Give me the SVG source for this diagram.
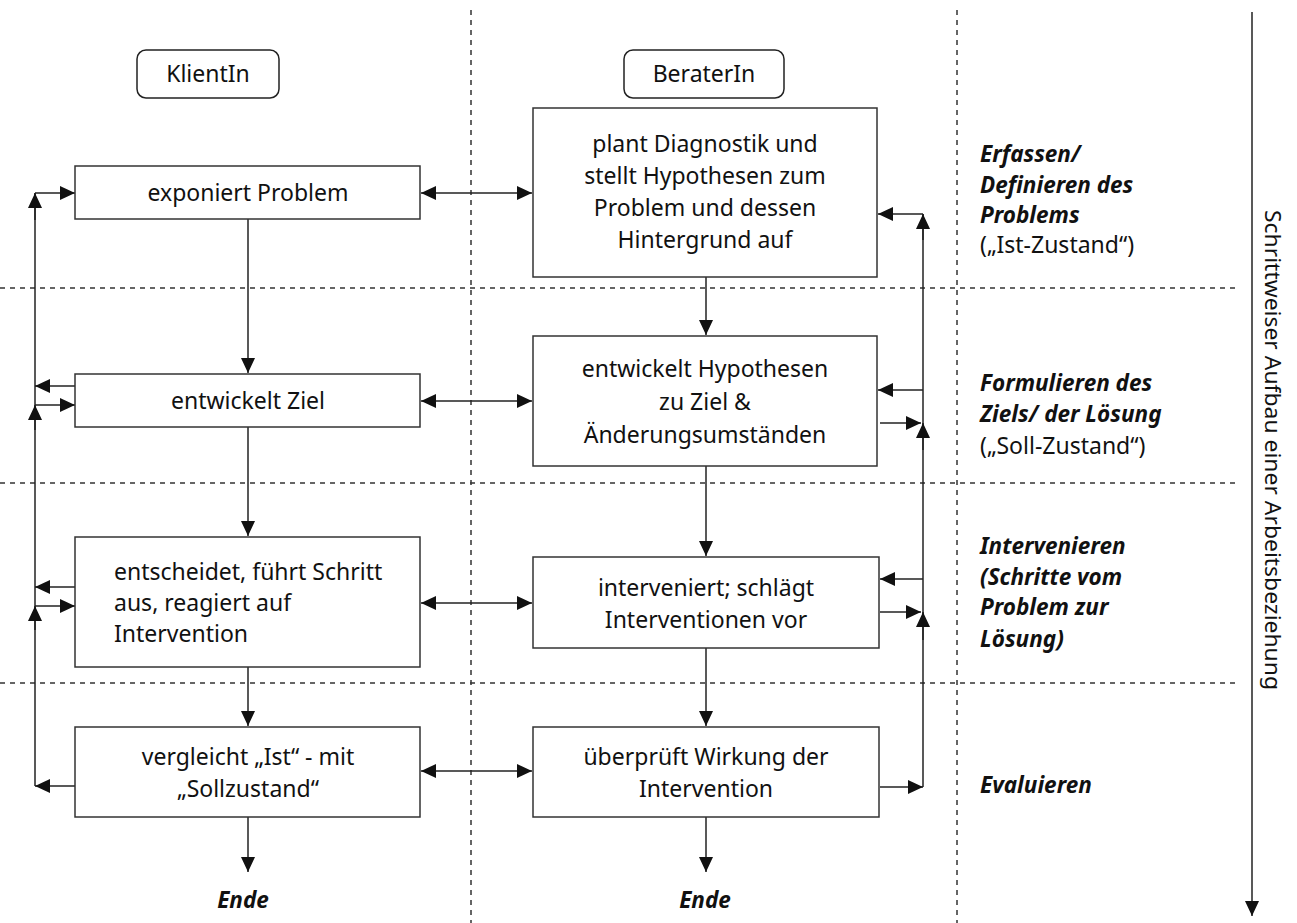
<svg xmlns="http://www.w3.org/2000/svg" width="1297" height="923" viewBox="0 0 1297 923">
<defs>
<marker id="ah" viewBox="0 0 15 14" refX="15" refY="7" markerWidth="15" markerHeight="14" markerUnits="userSpaceOnUse" orient="auto-start-reverse">
<path d="M0,0 L15,7 L0,14 Z" fill="#111"/>
</marker>
<style>
.box{fill:#fff;stroke:#333;stroke-width:1.5}
.hdr{fill:#fff;stroke:#222;stroke-width:1.5}
.dash{stroke:#333;stroke-width:1.5;stroke-dasharray:5,5;fill:none}
.ln{stroke:#222;stroke-width:1.5;fill:none}
.ar{stroke:#222;stroke-width:1.5;fill:none;marker-end:url(#ah)}
.dar{stroke:#222;stroke-width:1.5;fill:none;marker-end:url(#ah);marker-start:url(#ah)}
.t{font-family:"Noto Sans","Open Sans",sans-serif;font-size:23px;fill:#111;text-anchor:middle}
.tl{font-family:"Noto Sans","Open Sans",sans-serif;font-size:23px;fill:#111}
.bi{font-family:"Noto Sans","Open Sans",sans-serif;font-size:22.5px;fill:#111;font-weight:bold;font-style:italic}
</style>
</defs>
<rect width="1297" height="923" fill="#fff"/>
<g id="grid">
<line class="dash" x1="471" y1="10" x2="471" y2="923"/>
<line class="dash" x1="957" y1="10" x2="957" y2="923"/>
<line class="dash" x1="0" y1="288" x2="1240" y2="288"/>
<line class="dash" x1="0" y1="483" x2="1240" y2="483"/>
<line class="dash" x1="0" y1="683" x2="1240" y2="683"/>
</g>
<g id="connectors">
<line class="ln" x1="35" y1="786" x2="35" y2="193"/>
<line class="ar" x1="35" y1="220" x2="35" y2="193"/>
<line class="ar" x1="35" y1="430" x2="35" y2="405"/>
<line class="ar" x1="35" y1="630" x2="35" y2="606"/>
<line class="ar" x1="35" y1="193" x2="75" y2="193"/>
<line class="ar" x1="75" y1="386" x2="35" y2="386"/>
<line class="ar" x1="35" y1="405" x2="75" y2="405"/>
<line class="ar" x1="75" y1="587" x2="35" y2="587"/>
<line class="ar" x1="35" y1="606" x2="75" y2="606"/>
<line class="ar" x1="75" y1="786" x2="35" y2="786"/>
<line class="ln" x1="923" y1="787" x2="923" y2="214"/>
<line class="ar" x1="923" y1="240" x2="923" y2="214"/>
<line class="ar" x1="923" y1="450" x2="923" y2="423"/>
<line class="ar" x1="923" y1="640" x2="923" y2="612"/>
<line class="ar" x1="923" y1="214" x2="878" y2="214"/>
<line class="ar" x1="923" y1="390" x2="878" y2="390"/>
<line class="ar" x1="880" y1="423" x2="921" y2="423"/>
<line class="ar" x1="923" y1="579" x2="880" y2="579"/>
<line class="ar" x1="880" y1="612" x2="921" y2="612"/>
<line class="ar" x1="880" y1="787" x2="923" y2="787"/>
<line class="dar" x1="421" y1="193" x2="532" y2="193"/>
<line class="dar" x1="421" y1="401" x2="532" y2="401"/>
<line class="dar" x1="421" y1="603" x2="532" y2="603"/>
<line class="dar" x1="421" y1="771" x2="532" y2="771"/>
<line class="ar" x1="248" y1="219" x2="248" y2="373"/>
<line class="ar" x1="248" y1="427" x2="248" y2="536"/>
<line class="ar" x1="248" y1="667" x2="248" y2="726"/>
<line class="ar" x1="248" y1="817" x2="248" y2="872"/>
<line class="ar" x1="706" y1="277" x2="706" y2="335"/>
<line class="ar" x1="706" y1="466" x2="706" y2="556"/>
<line class="ar" x1="706" y1="648" x2="706" y2="726"/>
<line class="ar" x1="706" y1="817" x2="706" y2="872"/>
<line class="ar" x1="1252" y1="12" x2="1252" y2="916"/>
</g>
<g id="hdr-klient">
<rect class="hdr" x="137" y="50" width="142" height="48" rx="9"/>
<text class="t" x="208" y="82">KlientIn</text>
</g>
<g id="hdr-berater">
<rect class="hdr" x="624" y="50" width="160" height="48" rx="9"/>
<text class="t" x="704" y="82">BeraterIn</text>
</g>
<g id="k1">
<rect class="box" x="75" y="166" width="345" height="53"/>
<text class="t" x="248" y="201">exponiert Problem</text>
</g>
<g id="k2">
<rect class="box" x="75" y="374" width="345" height="53"/>
<text class="t" x="248" y="409">entwickelt Ziel</text>
</g>
<g id="k3">
<rect class="box" x="75" y="537" width="345" height="130"/>
<text class="tl" x="114" y="580">entscheidet, führt Schritt</text>
<text class="tl" x="114" y="611">aus, reagiert auf</text>
<text class="tl" x="114" y="642">Intervention</text>
</g>
<g id="k4">
<rect class="box" x="75" y="727" width="345" height="90"/>
<text class="t" x="248" y="765">vergleicht „Ist“ - mit</text>
<text class="t" x="248" y="797">„Sollzustand“</text>
</g>
<g id="b1">
<rect class="box" x="533" y="108" width="344" height="169"/>
<text class="t" x="705" y="152">plant Diagnostik und</text>
<text class="t" x="705" y="184">stellt Hypothesen zum</text>
<text class="t" x="705" y="216">Problem und dessen</text>
<text class="t" x="705" y="248">Hintergrund auf</text>
</g>
<g id="b2">
<rect class="box" x="533" y="336" width="344" height="130"/>
<text class="t" x="705" y="377">entwickelt Hypothesen</text>
<text class="t" x="705" y="410">zu Ziel &amp;</text>
<text class="t" x="705" y="443">Änderungsumständen</text>
</g>
<g id="b3">
<rect class="box" x="533" y="557" width="346" height="91"/>
<text class="t" x="706" y="596">interveniert; schlägt</text>
<text class="t" x="706" y="628">Interventionen vor</text>
</g>
<g id="b4">
<rect class="box" x="533" y="727" width="346" height="90"/>
<text class="t" x="706" y="765">überprüft Wirkung der</text>
<text class="t" x="706" y="797">Intervention</text>
</g>
<g id="ende1"><text class="bi" x="243" y="908" text-anchor="middle">Ende</text></g>
<g id="ende2"><text class="bi" x="705" y="908" text-anchor="middle">Ende</text></g>
<g id="phase1">
<text class="bi" x="980" y="162">Erfassen/</text>
<text class="bi" x="980" y="193">Definieren des</text>
<text class="bi" x="980" y="223">Problems</text>
<text class="tl" x="980" y="253">(„Ist-Zustand“)</text>
</g>
<g id="phase2">
<text class="bi" x="980" y="391">Formulieren des</text>
<text class="bi" x="980" y="422">Ziels/ der Lösung</text>
<text class="tl" x="980" y="454">(„Soll-Zustand“)</text>
</g>
<g id="phase3">
<text class="bi" x="980" y="554">Intervenieren</text>
<text class="bi" x="980" y="585">(Schritte vom</text>
<text class="bi" x="980" y="615">Problem zur</text>
<text class="bi" x="980" y="647">Lösung)</text>
</g>
<g id="phase4">
<text class="bi" x="980" y="793">Evaluieren</text>
</g>
<g id="axis-label">
<text class="tl" style="font-size:22px" transform="translate(1265,450) rotate(90)" text-anchor="middle" textLength="480" lengthAdjust="spacingAndGlyphs">Schrittweiser Aufbau einer Arbeitsbeziehung</text>
</g>
</svg>
